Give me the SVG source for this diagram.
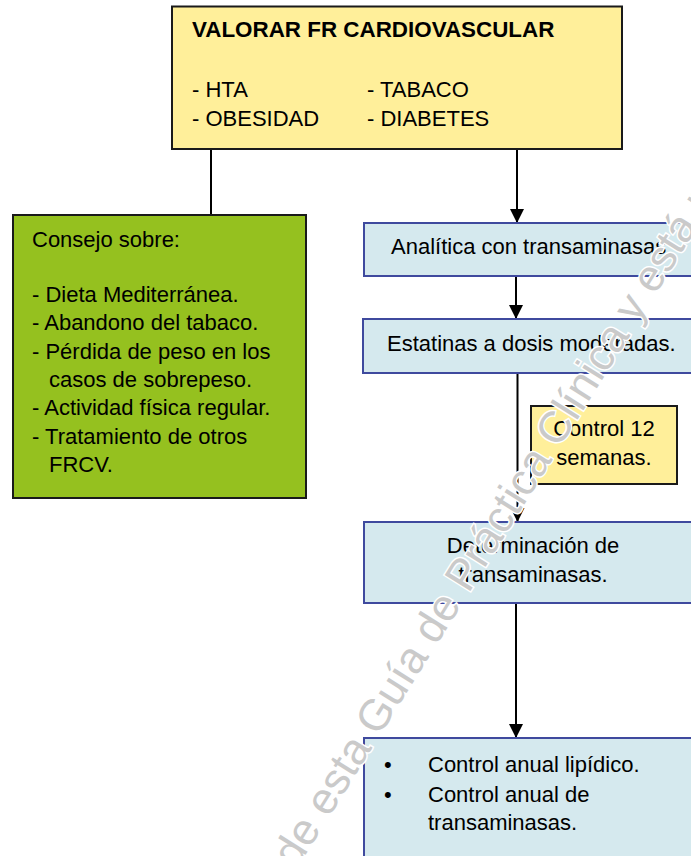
<svg xmlns="http://www.w3.org/2000/svg" width="691" height="856" viewBox="0 0 691 856">
<defs>
<style>
text{font-family:"Liberation Sans",Arial,sans-serif;font-size:22px;fill:#000}
.b{font-weight:bold;font-size:22.4px}
.m{text-anchor:middle}
.yel{fill:#FFEF9A;stroke:#1a1a1a;stroke-width:2}
.grn{fill:#95C11F;stroke:#1a1a1a;stroke-width:2}
.blu{fill:#D5E9EE;stroke:#3F4A9E;stroke-width:2}
.ln{stroke:#000;stroke-width:2;fill:none}
.wm{font-size:44px;fill:#CACACA;stroke:#fff;stroke-width:3;paint-order:stroke fill}
</style>
<marker id="ah" markerUnits="userSpaceOnUse" markerWidth="14" markerHeight="14" refX="14" refY="7" orient="auto" viewBox="0 0 14 14">
<path d="M0,0 L14,7 L0,14 z" fill="#000"/>
</marker>
</defs>
<rect width="691" height="856" fill="#fff"/>
<g id="connectors">
<line class="ln" x1="211" y1="149" x2="211" y2="214"/>
<line class="ln" x1="517" y1="149" x2="517" y2="223" marker-end="url(#ah)"/>
<line class="ln" x1="516" y1="276" x2="516" y2="319" marker-end="url(#ah)"/>
<line class="ln" x1="517.5" y1="373" x2="517.5" y2="522" marker-end="url(#ah)"/>
<line class="ln" x1="516" y1="603" x2="516" y2="738" marker-end="url(#ah)"/>
</g>
<g id="valorar">
<rect class="yel" x="172" y="6.5" width="450" height="142.5"/>
<text class="b" x="192" y="37">VALORAR FR CARDIOVASCULAR</text>
<text x="192" y="97">- HTA</text>
<text x="192" y="126">- OBESIDAD</text>
<text x="367" y="97">- TABACO</text>
<text x="367" y="126">- DIABETES</text>
</g>
<g id="consejo">
<rect class="grn" x="13" y="215" width="293" height="283"/>
<text x="32" y="247">Consejo sobre:</text>
<text x="32" y="302">- Dieta Mediterránea.</text>
<text x="32" y="330">- Abandono del tabaco.</text>
<text x="32" y="358.5">- Pérdida de peso en los</text>
<text x="49" y="387">casos de sobrepeso.</text>
<text x="32" y="415">- Actividad física regular.</text>
<text x="32" y="443.5">- Tratamiento de otros</text>
<text x="49" y="472">FRCV.</text>
</g>
<g id="analitica">
<rect class="blu" x="364" y="223" width="330" height="53"/>
<text x="391" y="254">Analítica con transaminasas</text>
</g>
<g id="estatinas">
<rect class="blu" x="363" y="319" width="331" height="54"/>
<text x="387" y="351">Estatinas a dosis moderadas.</text>
</g>
<g id="control12">
<rect class="yel" x="531" y="406" width="146" height="78"/>
<text class="m" x="604" y="436">Control 12</text>
<text class="m" x="604" y="465">semanas.</text>
</g>
<g id="determinacion">
<rect class="blu" x="364" y="522" width="330" height="81"/>
<text class="m" x="533" y="553">Determinación de</text>
<text class="m" x="533" y="582">transaminasas.</text>
</g>
<g id="control-anual">
<rect class="blu" x="364" y="738" width="330" height="130"/>
<text x="384" y="772">•</text>
<text x="428" y="772">Control anual lipídico.</text>
<text x="384" y="802">•</text>
<text x="428" y="802">Control anual de</text>
<text x="428" y="830">transaminasas.</text>
</g>
<g id="watermark">
<text class="wm" transform="translate(296,870) rotate(-58)">de esta Guía de Práctica Clínica y está p</text>
</g>
</svg>
